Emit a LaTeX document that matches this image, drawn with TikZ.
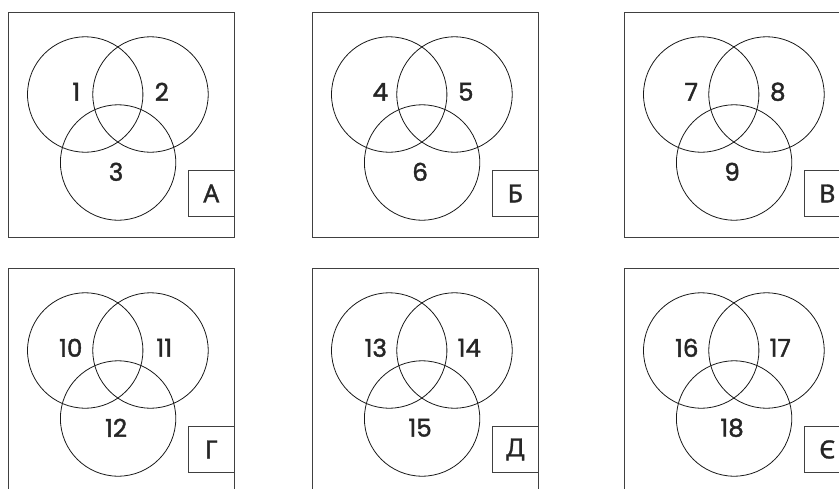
\documentclass[tikz,border=0pt]{standalone}
\usepackage{fontspec}
\newfontfamily\numfont[FakeBold=1.6]{Poppins}
\newfontfamily\letfont[FakeBold=1.2]{Noto Sans}
\tikzset{
  frame/.style={draw=black!75, line width=0.9pt},
  ring/.style={circle, draw=black!90, line width=0.8pt, minimum size=115.4pt, inner sep=0pt},
  num/.style={font=\numfont\fontsize{24.5}{24.5}\selectfont, text=black!85, inner sep=0pt},
  tagbox/.style={draw=black!75, line width=0.9pt, minimum width=46.3pt, minimum height=46pt, inner sep=0pt, anchor=north west},
  tagtext/.style={font=\letfont\fontsize{25}{25}\selectfont, text=black!85, inner sep=0pt}
}
\newcommand\vennpanel[8]{%
  \begin{scope}[shift={(#2,#3)}]
    \node[frame, minimum width=225.7pt, minimum height=225.3pt, inner sep=0pt, anchor=north west] (#1box) at (0,0) {};
    \node[ring] (#1c1) at (76.9,82.5) {};
    \node[ring] (#1c2) at (142.2,82.5) {};
    \node[ring] (#1c3) at (109.8,150.5) {};
    \node[num] (#1n1) at (#7,79.8) {#4};
    \node[num] (#1n2) at (#8,79.8) {#5};
    \node[num] (#1n3) at (107.8,159.8) {#6};
    \node[tagbox] (#1tag) at (179.4,158) {};
  \end{scope}}
\begin{document}
\begin{tikzpicture}[x=1pt,y=-1pt]
\useasboundingbox (0,0) rectangle (839,488);
\clip (0,0) rectangle (839,488);
\vennpanel{a}{8.3}{12}{1}{2}{3}{68}{153.5}
\node[tagtext] at (atag.center) {А};
\vennpanel{b}{312.3}{12}{4}{5}{6}{68}{153.5}
\node[tagtext] at (btag.center) {Б};
\vennpanel{v}{624.3}{12}{7}{8}{9}{67}{153.5}
\node[tagtext] at (vtag.center) {В};
\vennpanel{g}{8.3}{268}{10}{11}{12}{62.5}{156}
\node[tagtext] at (gtag.center) {Г};
\vennpanel{d}{312.3}{268}{13}{14}{15}{63.5}{157}
\node[tagtext] at (dtag.center) {Д};
\vennpanel{e}{624.3}{268}{16}{17}{18}{62.5}{156}
\node[tagtext] at (etag.center) {Є};
\end{tikzpicture}
\end{document}
